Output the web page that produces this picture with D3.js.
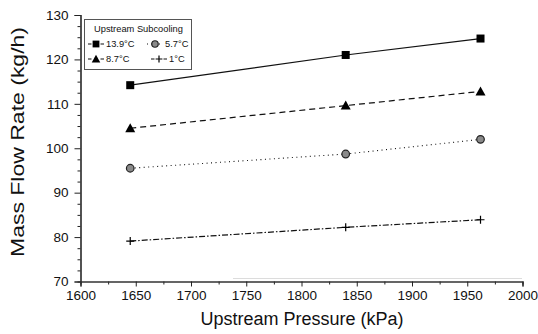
<!DOCTYPE html>
<html>
<head>
<meta charset="utf-8">
<script src="https://cdn.jsdelivr.net/npm/d3@7"></script>
<style>
  html, body { margin: 0; padding: 0; background: #fff; }
  svg { display: block; font-family: "Liberation Sans", Arial, sans-serif; }
</style>
</head>
<body>
<svg id="chart" width="538" height="334"></svg>
<script>
// Upstream pressure (kPa) at which each flow rate was measured
const pressures = [1645, 1840, 1962];

// Mass flow rate (kg/h) for each upstream subcooling level
const flow139 = [114.2, 121.0, 124.7];
const flow87  = [104.5, 109.6, 112.8];
const flow57  = [95.5, 98.7, 102.0];
const flow1   = [79.1, 82.2, 83.9];

const seriesLabels = ["13.9°C", "8.7°C", "5.7°C", "1°C"];

const xTicks = [1600, 1650, 1700, 1750, 1800, 1850, 1900, 1950, 2000];
const yTicks = [70, 80, 90, 100, 110, 120, 130];

const svg = d3.select("#chart");

const x = d3.scaleLinear().domain([1600, 2000]).range([80.5, 522.5]);
const y = d3.scaleLinear().domain([70, 130]).range([281.5, 15]);

// faint scan streak just above the x axis
svg.append("line")
  .attr("x1", 233).attr("x2", 522).attr("y1", 278.5).attr("y2", 278.5)
  .attr("stroke", "#dcdcdc").attr("stroke-width", 1);

// Axes with minor ticks
const xMinor = d3.range(1600, 2001, 25);
const yMinor = d3.range(70, 130.01, 2.5);

const gx = svg.append("g").attr("transform", `translate(0,${y(70)})`);
gx.call(d3.axisBottom(x).tickValues(xMinor).tickSize(3).tickFormat(""));
gx.call(g => g.selectAll(".tick").filter(d => xTicks.includes(d)).remove());
const gx2 = svg.append("g").attr("transform", `translate(0,${y(70)})`);
gx2.call(d3.axisBottom(x).tickValues(xTicks).tickSize(5).tickPadding(4).tickFormat(d3.format("d")));

const gy = svg.append("g").attr("transform", `translate(${x(1600)},0)`);
gy.call(d3.axisLeft(y).tickValues(yMinor).tickSize(3).tickFormat(""));
gy.call(g => g.selectAll(".tick").filter(d => yTicks.includes(d)).remove());
const gy2 = svg.append("g").attr("transform", `translate(${x(1600)},0)`);
gy2.call(d3.axisLeft(y).tickValues(yTicks).tickSize(6).tickPadding(6).tickFormat(d3.format("d")));

svg.selectAll(".domain").attr("stroke", "#333").attr("stroke-width", 1.2);
svg.selectAll(".tick line").attr("stroke", "#222");
svg.selectAll(".tick text").attr("font-size", 13.5).attr("fill", "#111")
  .attr("font-family", "Liberation Sans, Arial, sans-serif");

// Axis titles
svg.append("text")
  .attr("x", 302).attr("y", 325)
  .attr("text-anchor", "middle")
  .attr("font-size", 18).attr("fill", "#111")
  .text("Upstream Pressure (kPa)");

svg.append("text")
  .attr("transform", "translate(24,142) rotate(-90)")
  .attr("text-anchor", "middle")
  .attr("font-size", 18).attr("fill", "#111")
  .attr("textLength", 230).attr("lengthAdjust", "spacingAndGlyphs")
  .text("Mass Flow Rate (kg/h)");

// Series definitions
const series = [
  { label: seriesLabels[0], values: flow139, dash: null, marker: "square" },
  { label: seriesLabels[1], values: flow87, dash: "6,4", marker: "triangle" },
  { label: seriesLabels[2], values: flow57, dash: "1,3.5", marker: "circle" },
  { label: seriesLabels[3], values: flow1, dash: "6,2,1.5,2", marker: "plus" }
];

const line = d3.line().x(d => x(d[0])).y(d => y(d[1]));

function drawMarker(g, kind, cx, cy, k = 1) {
  if (kind === "square") {
    g.append("rect").attr("x", cx - 4 * k).attr("y", cy - 4 * k)
      .attr("width", 8 * k).attr("height", 8 * k).attr("fill", "#000");
  } else if (kind === "triangle") {
    g.append("path")
      .attr("d", `M${cx},${cy - 5 * k}L${cx + 5 * k},${cy + 4 * k}L${cx - 5 * k},${cy + 4 * k}Z`)
      .attr("fill", "#000");
  } else if (kind === "circle") {
    g.append("circle").attr("cx", cx).attr("cy", cy).attr("r", 3.8 * k)
      .attr("fill", "#8a8a8a").attr("stroke", "#222").attr("stroke-width", 1.2);
  } else if (kind === "plus") {
    g.append("path").attr("d", `M${cx - 4 * k},${cy}H${cx + 4 * k}M${cx},${cy - 4 * k}V${cy + 4 * k}`)
      .attr("stroke", "#000").attr("stroke-width", 1.2);
  }
}

const plot = svg.append("g");
series.forEach(s => {
  const pts = pressures.map((p, i) => [p, s.values[i]]);
  plot.append("path")
    .attr("d", line(pts))
    .attr("fill", "none")
    .attr("stroke", "#111")
    .attr("stroke-width", s.dash === "1,3.5" ? 1.1 : 1.2)
    .attr("stroke-dasharray", s.dash);
  pts.forEach(p => drawMarker(plot, s.marker, x(p[0]), y(p[1])));
});

// Legend
const lg = svg.append("g");
lg.append("rect")
  .attr("x", 84.5).attr("y", 19.5).attr("width", 107).attr("height", 50)
  .attr("fill", "#fff").attr("stroke", "#555").attr("stroke-width", 1);
lg.append("text").attr("x", 94).attr("y", 31.5)
  .attr("font-size", 9.3).attr("fill", "#111").text("Upstream Subcooling");

const legendSlots = [
  { s: series[0], cx: 96, cy: 44 },
  { s: series[2], cx: 155, cy: 44 },
  { s: series[1], cx: 96, cy: 59 },
  { s: series[3], cx: 159, cy: 59 }
];
legendSlots.forEach(({ s, cx, cy }) => {
  lg.append("line")
    .attr("x1", cx - 8).attr("x2", cx + 8).attr("y1", cy).attr("y2", cy)
    .attr("stroke", "#111").attr("stroke-width", 1.2)
    .attr("stroke-dasharray", s.marker === "circle" ? "1,3" : "3.5,9");
  drawMarker(lg, s.marker, cx, cy, 0.85);
  lg.append("text").attr("x", cx + 10).attr("y", cy + 3.3)
    .attr("font-size", 9.3).attr("fill", "#111").text(s.label);
});
</script>
</body>
</html>
